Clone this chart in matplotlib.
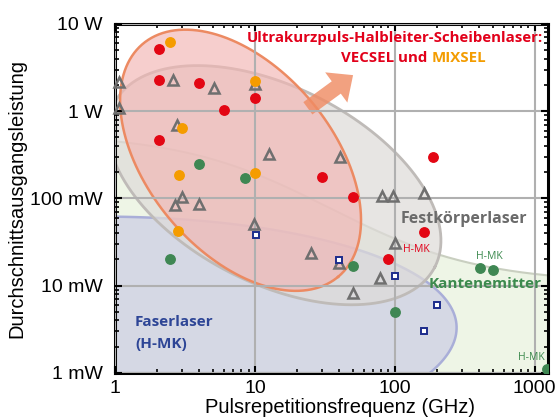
import numpy as np
import matplotlib
matplotlib.use("Agg")
import matplotlib.pyplot as plt
from matplotlib.patches import FancyArrowPatch

# --- data (repetition rate in GHz, average power in W) ---
vecsel_f = [2.06, 2.06, 3.95, 10, 5.96, 2.06, 30, 187, 50, 161, 90]
vecsel_p = [5.2, 2.3, 2.1, 1.4, 1.03, 0.47, 0.178, 0.30, 0.105, 0.041, 0.020]

mixsel_f = [2.47, 10, 3.02, 2.85, 10, 2.81]
mixsel_p = [6.15, 2.24, 0.634, 0.187, 0.197, 0.042]

kante_f = [3.95, 8.48, 2.46, 50, 101, 409, 505, 1220]
kante_p = [0.25, 0.17, 0.020, 0.017, 0.005, 0.016, 0.0151, 0.00112]

fest_f = [1.07, 2.61, 5.1, 10, 1.07, 2.76, 12.7, 40.4, 81.5, 97, 162,
          2.7, 3.0, 3.97, 9.9, 25, 101, 40.2, 78, 50]
fest_p = [2.16, 2.26, 1.85, 2.05, 1.1, 0.69, 0.32, 0.30, 0.107, 0.107, 0.115,
          0.084, 0.103, 0.087, 0.0515, 0.0238, 0.031, 0.018, 0.0124, 0.0082]

faser_f = [10.2, 40.2, 101, 200, 162]
faser_p = [0.038, 0.0198, 0.013, 0.006, 0.003]

x_ticks = [1, 10, 100, 1000]
x_labels = ["1", "10", "100", "1000"]
y_ticks = [0.001, 0.01, 0.1, 1, 10]
y_labels = ["1 mW", "10 mW", "100 mW", "1 W", "10 W"]

XMIN, XMAX = 1, 1250
YMIN, YMAX = 0.001, 10

plt.rcParams["font.family"] = ["Liberation Sans", "DejaVu Sans"]
ANN = ["Open Sans", "DejaVu Sans"]

fig = plt.figure(figsize=(5.56, 4.18), dpi=100)
ax = fig.add_axes([0.207, 0.1077, 0.779, 0.835])
ax.set_xscale("log")
ax.set_yscale("log")
ax.set_xlim(XMIN, XMAX)
ax.set_ylim(YMIN, YMAX)

# pixels per decade, so the shapes are drawn as ellipses on screen
ax_w = fig.get_figwidth() * fig.dpi * 0.779
ax_h = fig.get_figheight() * fig.dpi * 0.835
SX = ax_w / np.log10(XMAX / XMIN)
SY = ax_h / np.log10(YMAX / YMIN)


def blob(cx, cy, a, b, ang):
    t = np.linspace(0, 2 * np.pi, 300)
    r = np.radians(ang)
    du = a * np.cos(t) * np.cos(r) - b * np.sin(t) * np.sin(r)
    dv = a * np.cos(t) * np.sin(r) + b * np.sin(t) * np.cos(r)
    u = np.log10(cx) * SX + du
    v = np.log10(cy) * SY + dv
    return 10 ** (u / SX), 10 ** (v / SY)


# edge emitter region: light green below a soft S-shaped border
xs = np.logspace(0, np.log10(XMAX), 300)
border = 10 ** (np.log10(0.0773) - 0.86 * np.tanh((np.log10(xs) - np.log10(34.4)) / 1.077))
ax.fill_between(xs, 1e-5, border, color="#eef5e6", lw=0, zorder=0.2)
ax.plot(xs, border, color="#c9cfc0", lw=1.5, zorder=0.3)

# fibre lasers
bx, by = blob(0.396, 0.00237, 398, 123, 2)
ax.fill(bx, by, facecolor="#d5d8e4", edgecolor="#a9aed8", lw=1.8, zorder=0.4)

# solid-state lasers
gx, gy = blob(13.8, 0.142, 180, 98, -27)
ax.fill(gx, gy, facecolor="#dedbd9", alpha=0.72, lw=0, zorder=0.6)
ax.plot(gx, gy, color="#bfbbb8", lw=2, zorder=0.65)

# VECSEL / MIXSEL
rx, ry = blob(7.89, 0.274, 152, 92, -50)
ax.fill(rx, ry, facecolor="#f2b5b3", alpha=0.65, lw=0, zorder=0.8)
ax.plot(rx, ry, color="#ec8a62", lw=1.8, zorder=0.85)

arrow = FancyArrowPatch((23.9, 1.08), (50.3, 2.59),
                        arrowstyle="simple,head_length=15,head_width=27,tail_width=11",
                        mutation_scale=1, shrinkA=0, shrinkB=0,
                        color="#f08c64", alpha=0.82, lw=0, zorder=2)
ax.add_patch(arrow)

# markers
ax.plot(fest_f, fest_p, ls="none", marker="^", ms=7.2, mfc="none", mec="#6f6f6f",
        mew=1.8, zorder=3, clip_on=False)
ax.plot(faser_f, faser_p, ls="none", marker="s", ms=5, mfc="white", mec="#1c2c8c",
        mew=1.4, zorder=3.2)
ax.plot(kante_f, kante_p, ls="none", marker="o", ms=6.8, color="#3f8753", zorder=3.4)
ax.plot(vecsel_f, vecsel_p, ls="none", marker="o", ms=6.8, color="#e30613", zorder=3.6)
ax.plot(mixsel_f, mixsel_p, ls="none", marker="o", ms=6.8, color="#f59c00", zorder=3.8)

# axes styling
ax.grid(which="major", color="#b0b0b0", lw=1.5)
ax.set_axisbelow(False)
for s in ax.spines.values():
    s.set_linewidth(2.2)
    s.set_color("black")
ax.tick_params(which="both", direction="in", top=True, right=True, color="black")
ax.tick_params(which="major", length=5, width=1.5, labelsize=14)
ax.tick_params(which="minor", length=3, width=1.2)
ax.tick_params(axis="y", which="major", pad=9)
ax.tick_params(axis="x", which="major", pad=5)
ax.set_xticks(x_ticks)
ax.set_xticklabels(x_labels)
ax.set_yticks(y_ticks)
ax.set_yticklabels(y_labels)

ax.set_xlabel("Pulsrepetitionsfrequenz (GHz)", fontsize=14.5)
ax.xaxis.set_label_coords(0.52, -0.072)
ax.set_ylabel("Durchschnittsausgangsleistung", fontsize=14.5)
ax.yaxis.set_label_coords(-0.205, 0.5)

# annotations
tk = dict(transform=ax.transAxes, family=ANN, fontweight="bold", zorder=5)
ax.text(0.988, 0.960, "Ultrakurzpuls-Halbleiter-Scheibenlaser:", color="#e2001a",
        fontsize=10.8, ha="right", va="center", **tk)
ax.text(0.7206, 0.9026, "VECSEL und", color="#e2001a", fontsize=10.8,
        ha="right", va="center", **tk)
ax.text(0.7298, 0.9026, "MIXSEL", color="#f39c00", fontsize=10.8,
        ha="left", va="center", **tk)
ax.text(0.806, 0.441, "Festkörperlaser", color="#6b6b6b", fontsize=11.5,
        ha="center", va="center", **tk)
ax.text(0.8545, 0.255, "Kantenemitter", color="#3c8a4e", fontsize=11,
        ha="center", va="center", **tk)
ax.text(0.0462, 0.146, "Faserlaser", color="#2d4596", fontsize=11,
        ha="left", va="center", **tk)
ax.text(0.0462, 0.083, "(H-MK)", color="#2d4596", fontsize=11,
        ha="left", va="center", **tk)

sk = dict(transform=ax.transAxes, family=ANN, fontsize=7.5, ha="center",
          va="center", zorder=5)
ax.text(0.695, 0.355, "H-MK", color="#e2001a", **sk)
ax.text(0.864, 0.335, "H-MK", color="#3c8a4e", **sk)
ax.text(0.962, 0.043, "H-MK", color="#3c8a4e", **sk)

fig.savefig("out.png", dpi=100)
